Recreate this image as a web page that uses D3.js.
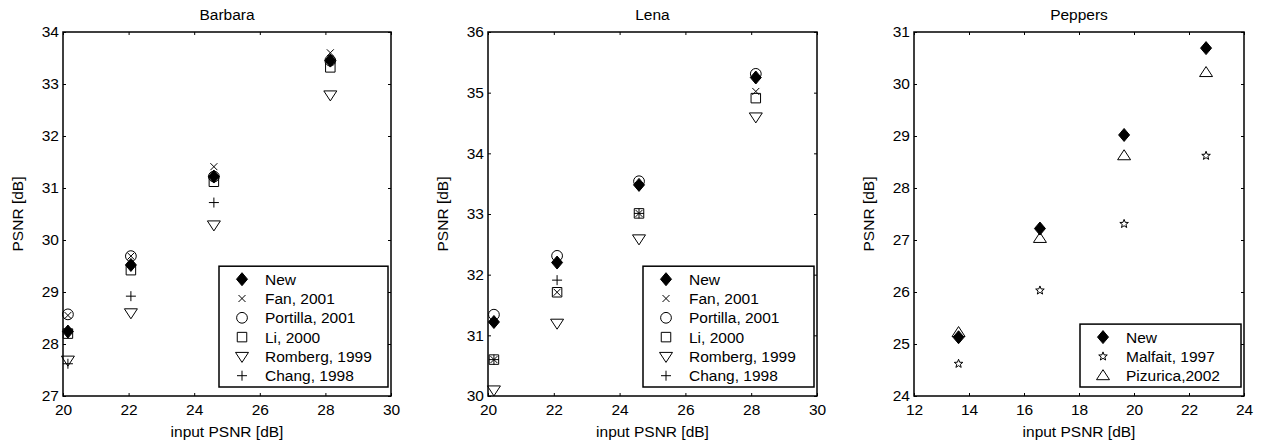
<!DOCTYPE html>
<html>
<head>
<meta charset="UTF-8">
<title>PSNR comparison</title>
<script src="https://d3js.org/d3.v7.min.js"></script>
<style>
  body { margin: 0; background: #fff; }
  text { font-family: "Liberation Sans", Arial, Helvetica, sans-serif; font-size: 15.5px; fill: #000; }
  .tick line { stroke: #000; }
</style>
</head>
<body>
<div id="chart"></div>
<script>
// ---- data ----
const barbaraX = [20.15, 22.07, 24.6, 28.15];
const barbaraNew      = [28.24, 29.52, 31.22, 33.45];
const barbaraFan      = [28.55, 29.69, 31.41, 33.60];
const barbaraPortilla = [28.57, 29.69, 31.22, 33.45];
const barbaraLi       = [28.20, 29.42, 31.12, 33.32];
const barbaraRomberg  = [27.69, 28.60, 30.29, 32.79];
const barbaraChang    = [27.62, 28.92, 30.72, 33.48];

const lenaX = [20.18, 22.1, 24.59, 28.14];
const lenaNew      = [31.22, 32.20, 33.48, 35.25];
const lenaFan      = [30.60, 31.71, 33.01, 35.02];
const lenaPortilla = [31.34, 32.31, 33.54, 35.31];
const lenaLi       = [30.60, 31.71, 33.01, 34.91];
const lenaRomberg  = [30.10, 31.20, 32.59, 34.60];
const lenaChang    = [30.60, 31.91, 33.01, 35.25];

const peppersX = [13.62, 16.58, 19.64, 22.62];
const peppersNew      = [25.13, 27.22, 29.02, 30.69];
const peppersMalfait  = [24.62, 26.03, 27.31, 28.62];
const peppersPizurica = [25.22, 27.03, 28.62, 30.22];

const titles = ["Barbara", "Lena", "Peppers"];
const xTicksA = [20, 22, 24, 26, 28, 30];
const xTicksP = [12, 14, 16, 18, 20, 22, 24];
const yTicksB = [27, 28, 29, 30, 31, 32, 33, 34];
const yTicksL = [30, 31, 32, 33, 34, 35, 36];
const yTicksP = [24, 25, 26, 27, 28, 29, 30, 31];

const panels = [
  { title: titles[0], xDom: [20, 30], yDom: [27, 34], xTicks: xTicksA, yTicks: yTicksB, x: barbaraX,
    series: [
      { name: "New", mark: "diamond", v: barbaraNew },
      { name: "Fan, 2001", mark: "x", v: barbaraFan },
      { name: "Portilla, 2001", mark: "circle", v: barbaraPortilla },
      { name: "Li, 2000", mark: "square", v: barbaraLi },
      { name: "Romberg, 1999", mark: "tridown", v: barbaraRomberg },
      { name: "Chang, 1998", mark: "plus", v: barbaraChang }
    ] },
  { title: titles[1], xDom: [20, 30], yDom: [30, 36], xTicks: xTicksA, yTicks: yTicksL, x: lenaX,
    series: [
      { name: "New", mark: "diamond", v: lenaNew },
      { name: "Fan, 2001", mark: "x", v: lenaFan },
      { name: "Portilla, 2001", mark: "circle", v: lenaPortilla },
      { name: "Li, 2000", mark: "square", v: lenaLi },
      { name: "Romberg, 1999", mark: "tridown", v: lenaRomberg },
      { name: "Chang, 1998", mark: "plus", v: lenaChang }
    ] },
  { title: titles[2], xDom: [12, 24], yDom: [24, 31], xTicks: xTicksP, yTicks: yTicksP, x: peppersX,
    series: [
      { name: "New", mark: "diamond", v: peppersNew },
      { name: "Malfait, 1997", mark: "star", v: peppersMalfait },
      { name: "Pizurica,2002", mark: "triup", v: peppersPizurica }
    ] }
];

// ---- layout ----
const boxes = [
  { left: 63, right: 391, legendW: 169 },
  { left: 488, right: 817, legendW: 171 },
  { left: 914, right: 1244, legendW: 161 }
];
const plotTop = 32, plotBottom = 396;

const svg = d3.select("#chart").append("svg")
  .attr("width", 1265).attr("height", 441);

function starPath(R, r) {
  const pts = [];
  for (let i = 0; i < 10; i++) {
    const a = -Math.PI / 2 + i * Math.PI / 5;
    const rad = i % 2 === 0 ? R : r;
    pts.push([rad * Math.cos(a), rad * Math.sin(a)]);
  }
  return "M" + pts.map(p => p[0].toFixed(2) + "," + p[1].toFixed(2)).join("L") + "Z";
}

function markerPath(mark) {
  switch (mark) {
    case "diamond": return "M0,-6.5L5.5,0L0,6.5L-5.5,0Z";
    case "x": return "M-3.5,-3.5L3.5,3.5M-3.5,3.5L3.5,-3.5";
    case "circle": return d3.symbol(d3.symbolCircle, Math.PI * 29)();
    case "square": return "M-4.75,-4.75H4.75V4.75H-4.75Z";
    case "tridown": return "M-6.5,-4L6.5,-4L0,6Z";
    case "triup": return "M-6.5,4L6.5,4L0,-6Z";
    case "plus": return "M-5,0H5M0,-5V5";
    case "star": return starPath(4.5, 1.9);
  }
}

panels.forEach((p, i) => {
  const b = boxes[i];
  const x = d3.scaleLinear().domain(p.xDom).range([b.left, b.right]);
  const y = d3.scaleLinear().domain(p.yDom).range([plotBottom, plotTop]);
  const g = svg.append("g");

  g.append("text").attr("x", (b.left + b.right) / 2).attr("y", 20)
    .attr("text-anchor", "middle").text(p.title);

  const xb = g.append("g").attr("transform", `translate(0,${plotBottom})`)
    .call(d3.axisBottom(x).tickValues(p.xTicks).tickFormat(d3.format("d")).tickSize(-3).tickPadding(8));
  const xt = g.append("g").attr("transform", `translate(0,${plotTop})`)
    .call(d3.axisTop(x).tickValues(p.xTicks).tickSize(-3).tickFormat(""));
  const yl = g.append("g").attr("transform", `translate(${b.left},0)`)
    .call(d3.axisLeft(y).tickValues(p.yTicks).tickFormat(d3.format("d")).tickSize(-3).tickPadding(4));
  const yr = g.append("g").attr("transform", `translate(${b.right},0)`)
    .call(d3.axisRight(y).tickValues(p.yTicks).tickSize(-3).tickFormat(""));
  [xb, xt, yl, yr].forEach(a => {
    a.select(".domain").remove();
    a.attr("font-size", null).attr("font-family", null);
  });

  g.append("rect").attr("x", b.left).attr("y", plotTop)
    .attr("width", b.right - b.left).attr("height", plotBottom - plotTop)
    .attr("fill", "none").attr("stroke", "#000").attr("stroke-width", 1.5);

  g.append("text").attr("x", (b.left + b.right) / 2).attr("y", 437)
    .attr("text-anchor", "middle").text("input PSNR [dB]");
  g.append("text")
    .attr("transform", `translate(${b.left - 40},${(plotTop + plotBottom) / 2}) rotate(-90)`)
    .attr("text-anchor", "middle").text("PSNR [dB]");

  // points
  p.series.forEach(s => {
    g.selectAll(null).data(s.v.map((v, k) => ({ x: p.x[k], y: v })))
      .enter().append("path")
      .attr("d", markerPath(s.mark))
      .attr("transform", d => `translate(${x(d.x)},${y(d.y)})`)
      .attr("fill", s.mark === "diamond" ? "#000" : "none")
      .attr("stroke", "#000").attr("stroke-width", 1);
  });

  // legend
  const rowH = 19.3;
  const lh = p.series.length * rowH + 5;
  const lx = b.right - 3 - b.legendW, ly = plotBottom - 9 - lh;
  const leg = g.append("g").attr("transform", `translate(${lx},${ly})`);
  leg.append("rect").attr("width", b.legendW).attr("height", lh)
    .attr("fill", "#fff").attr("stroke", "#000").attr("stroke-width", 1.5);
  p.series.forEach((s, k) => {
    const cy = 13 + k * rowH;
    leg.append("path").attr("d", markerPath(s.mark))
      .attr("transform", `translate(23,${cy})`)
      .attr("fill", s.mark === "diamond" ? "#000" : "none")
      .attr("stroke", "#000").attr("stroke-width", 1);
    leg.append("text").attr("x", 46).attr("y", cy + 5.5).text(s.name);
  });
});
</script>
</body>
</html>
